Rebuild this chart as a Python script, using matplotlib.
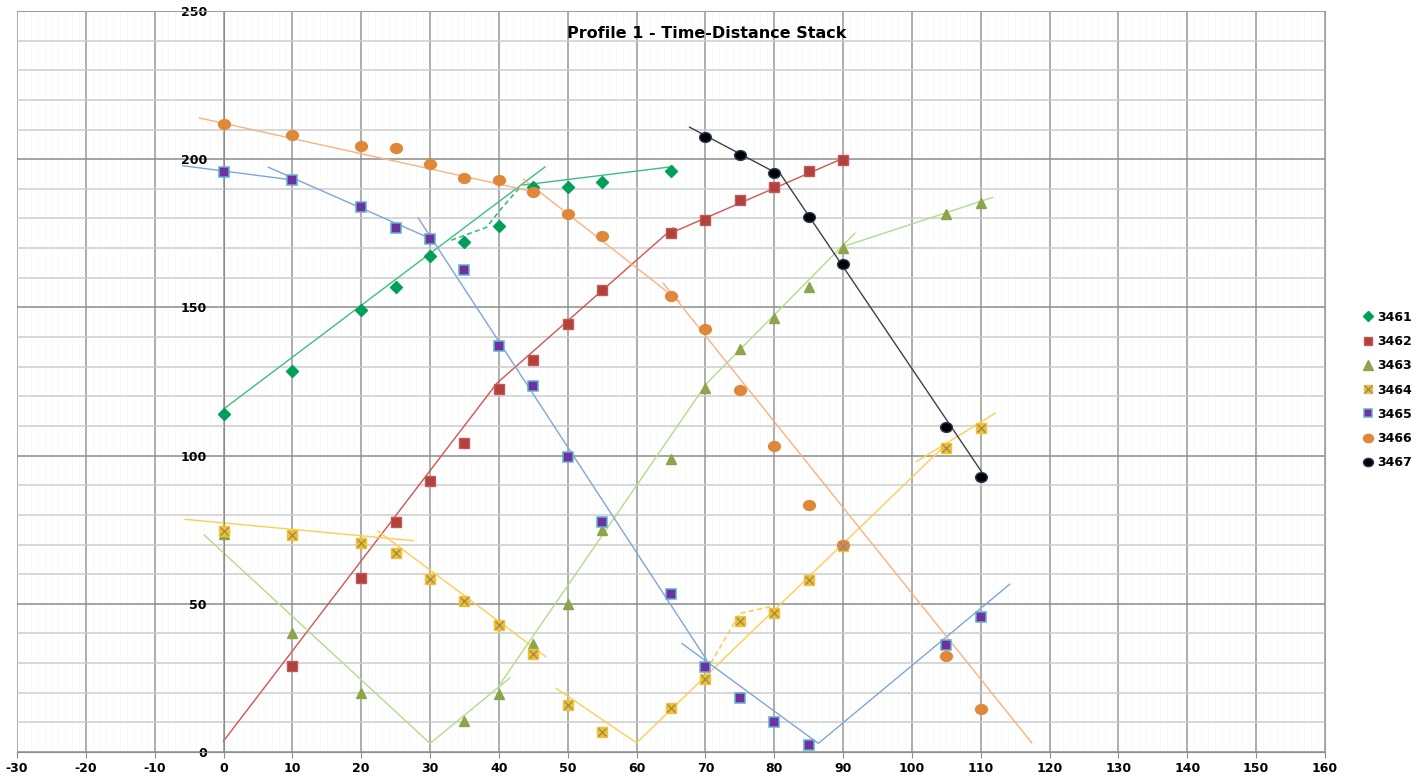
import numpy as np
import matplotlib
matplotlib.use("Agg")
import matplotlib.pyplot as plt
from matplotlib.path import Path
from matplotlib.transforms import Affine2D
from matplotlib.ticker import MultipleLocator

plt.rcParams["axes.unicode_minus"] = False

# picks per geophone (distance, time)
x_3461 = [0, 10, 20, 25, 30, 35, 40, 45, 50, 55, 65]
y_3461 = [114.0, 128.5, 149.1, 156.9, 167.3, 172.1, 177.5, 190.6, 190.6, 192.3, 196.0]

x_3462 = [10, 20, 25, 30, 35, 40, 45, 50, 55, 65, 70, 75, 80, 85, 90]
y_3462 = [29.0, 58.7, 77.6, 91.4, 104.3, 122.5, 132.3, 144.4, 155.9, 175.1, 179.5, 186.2, 190.6, 196.0, 199.7]

x_3463 = [0, 10, 20, 35, 40, 45, 50, 55, 65, 70, 75, 80, 85, 90, 105, 110]
y_3463 = [73.5, 40.1, 19.9, 10.5, 19.6, 36.4, 49.9, 74.9, 98.9, 122.8, 136.0, 146.4, 156.9, 170.0, 181.5, 185.2]

x_3464 = [0, 10, 20, 25, 30, 35, 40, 45, 50, 55, 65, 70, 75, 80, 85, 90, 105, 110]
y_3464 = [74.6, 73.2, 70.5, 67.1, 58.4, 50.9, 42.8, 33.1, 15.9, 6.7, 14.8, 24.6, 44.2, 46.9, 58.0, 69.5, 102.6, 109.3]

x_3465 = [0, 10, 20, 25, 30, 35, 40, 45, 50, 55, 65, 70, 75, 80, 85, 105, 110]
y_3465 = [195.7, 193.0, 183.9, 176.8, 173.1, 162.6, 137.0, 123.5, 99.5, 77.6, 53.3, 28.7, 18.2, 10.1, 2.4, 36.1, 45.5]

x_3466 = [0, 10, 20, 25, 30, 35, 40, 45, 50, 55, 65, 70, 75, 80, 85, 90, 105, 110]
y_3466 = [211.9, 208.2, 204.5, 203.8, 198.4, 193.7, 193.0, 188.9, 181.5, 174.1, 153.8, 142.7, 122.1, 103.2, 83.3, 69.8, 32.4, 14.5]

x_3467 = [70, 75, 80, 85, 90, 105, 110]
y_3467 = [207.5, 201.4, 195.3, 180.5, 164.6, 109.7, 92.8]

# fitted trend segments (x list, y list)
trend_3461 = [([0, 46.7], [115.7, 197.4]), ([43.5, 65.3], [191.3, 197.5])]
dash_3461 = ([33.1, 38.2, 40.2, 43.1], [172.7, 177.0, 182.9, 190.7])
trend_3462 = [([0, 39.7, 65.3], [3.7, 124.4, 176.8]), ([64.9, 90.0], [175.0, 200.3])]
trend_3463 = [([-2.8, 30.0, 41.6], [73.2, 2.9, 25.0]), ([39.9, 70.2, 91.7], [22.0, 124.4, 175.0]),
              ([90.0, 111.7], [170.5, 187.1])]
trend_3464 = [([-5.6, 27.6], [78.5, 71.3]), ([22.4, 46.8], [74.6, 32.2]),
              ([48.3, 60.0, 105.1], [21.5, 3.1, 104.1]), ([100.6, 112.1], [97.9, 114.3])]
dash_3464 = ([70.2, 75.0, 79.9], [27.6, 46.8, 49.2])
trend_3465 = [([-5.9, 10.0], [197.8, 193.0]), ([6.5, 30.0], [197.3, 173.3]),
              ([28.3, 70.2], [180.1, 31.0]), ([66.6, 86.4, 114.2], [36.6, 2.9, 56.6])]
trend_3466 = [([-3.5, 44.5], [213.9, 189.3]), ([43.6, 66.3], [193.2, 151.9]), ([63.9, 117.4], [158.1, 3.1])]
trend_3467 = [([67.7, 80.8], [210.8, 194.7]), ([80.5, 110.1], [196.4, 94.6])]

# slightly wide circle like excel's
ellipse = Path.unit_circle().transformed(Affine2D().scale(1.2, 1.0))

fig = plt.figure(figsize=(14.26, 7.82), dpi=100)
ax = fig.add_axes([17 / 1426, 1 - 752 / 782, 1308 / 1426, 741 / 782])

ax.set_xlim(-30, 160)
ax.set_ylim(0, 250)

# grid
ax.xaxis.set_major_locator(MultipleLocator(10))
ax.xaxis.set_minor_locator(MultipleLocator(1))
ax.yaxis.set_major_locator(MultipleLocator(50))
ax.yaxis.set_minor_locator(MultipleLocator(10))
ax.grid(which="major", axis="x", color="#a0a0a0", lw=1.2)
ax.grid(which="minor", axis="x", color="#f6f7fa", lw=0.5)
ax.grid(which="major", axis="y", color="#8c8c8c", lw=1.1)
ax.grid(which="minor", axis="y", color="#cdcdcd", lw=1.1)
ax.set_axisbelow(True)

for s in ["top", "right"]:
    ax.spines[s].set_color("#a0a0a0")
ax.spines["bottom"].set_color("#8c8c8c")
ax.spines["left"].set_position(("data", 0))
ax.spines["left"].set_color("#8c8c8c")

ax.tick_params(axis="x", which="major", length=4, color="#8c8c8c", labelsize=9, pad=3)
ax.tick_params(axis="x", which="minor", length=0)
ax.tick_params(axis="y", which="both", length=0, labelsize=9, pad=12)
for lab in ax.get_xticklabels() + ax.get_yticklabels():
    lab.set_fontweight("bold")

# trendlines
def draw_trends(segs, color):
    for xs, ys in segs:
        ax.plot(xs, ys, color=color, lw=1.0, zorder=2)

draw_trends(trend_3461, "#3dbe7f")
draw_trends(trend_3462, "#d35451")
draw_trends(trend_3463, "#b3dc8a")
draw_trends(trend_3464, "#ffcd4f")
draw_trends(trend_3465, "#7ea6d8")
draw_trends(trend_3466, "#f9b27f")
draw_trends(trend_3467, "#404040")
ax.plot(dash_3461[0], dash_3461[1], color="#3dbe7f", lw=1.2, ls=(0, (3, 2)), zorder=2)
ax.plot(dash_3464[0], dash_3464[1], color="#ffcd4f", lw=1.2, ls=(0, (3, 2)), zorder=2)

# markers
h1, = ax.plot(x_3461, y_3461, ls="", marker="D", ms=6.2, color="#00a05a", mec="#00a05a", zorder=3)
h2, = ax.plot(x_3462, y_3462, ls="", marker="s", ms=6.8, color="#b2403c", mec="#c05a57", zorder=3)
h3, = ax.plot(x_3463, y_3463, ls="", marker="^", ms=7.8, color="#8ca54a", mec="#8ca54a", zorder=3)
h4a, = ax.plot(x_3464, y_3464, ls="", marker="s", ms=7.6, color="#ffc000", mec="#f0c040", zorder=3)
h4b, = ax.plot(x_3464, y_3464, ls="", marker="x", ms=6, mew=1.0, color="#8c8c8c", zorder=4)
h5, = ax.plot(x_3465, y_3465, ls="", marker="s", ms=7.5, color="#7030a0", mec="#5fb0cf", mew=1.1, zorder=3)
h6, = ax.plot(x_3466, y_3466, ls="", marker=ellipse, ms=8.5, color="#e0883a", mec="#e0883a", zorder=3)
h7, = ax.plot(x_3467, y_3467, ls="", marker=ellipse, ms=8.5, color="black", mec="#2a3a5a", zorder=3)

fig.text(707 / 1426, 1 - 33 / 782, "Profile 1 - Time-Distance Stack", ha="center", va="center",
         fontsize=11.5, fontweight="bold")

leg = fig.legend([h1, h2, h3, (h4a, h4b), h5, h6, h7],
                 ["3461", "3462", "3463", "3464", "3465", "3466", "3467"],
                 loc="center left", bbox_to_anchor=(1352 / 1426, 1 - 390 / 782),
                 frameon=False, prop={"size": 9, "weight": "bold"},
                 handlelength=0.8, handletextpad=0.3, labelspacing=0.9, markerscale=0.85)

fig.savefig("out.png", dpi=100)
